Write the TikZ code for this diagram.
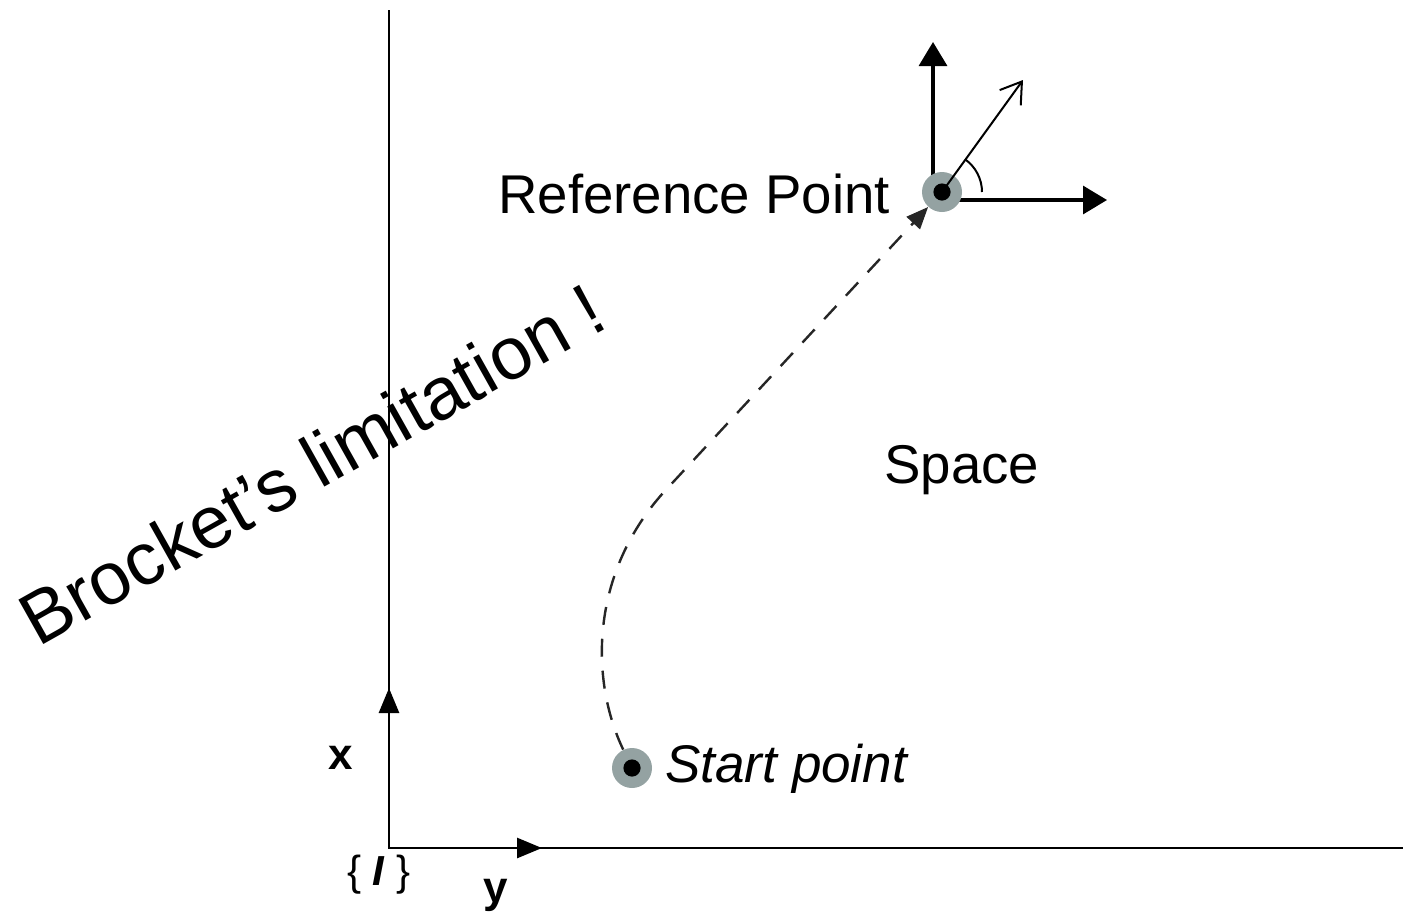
\documentclass[tikz,border=0pt]{standalone}
\usepackage{fontspec}
\setmainfont{Liberation Sans}
\usetikzlibrary{arrows.meta}
\definecolor{dotgray}{RGB}{148,162,162}
\begin{document}
\begin{tikzpicture}[x=0.5pt,y=-0.5pt,
  axis/.style={line width=1.35pt},
  axishead/.style={line width=1.35pt,-{Triangle[length=12.5pt,width=10pt]}},
  framearrow/.style={line width=1.6pt,-{Triangle[length=12pt,width=14pt]}},
  diagarrow/.style={line width=1pt,-{Straight Barb[length=10pt,width=13pt,line width=1pt]}},
  pathline/.style={line width=1.2pt,draw=black!85,dash pattern=on 9pt off 7pt,-{Triangle[length=11pt,width=9pt]}},
  pointdot/.style={circle,fill=dotgray,minimum size=20pt,inner sep=0pt,
    path picture={\fill[black] (path picture bounding box.center) circle[radius=4.3pt];}},
  lbl/.style={inner sep=0pt,font=\fontsize{27.3}{30}\selectfont},
  axlbl/.style={inner sep=0pt,font=\fontsize{21}{24}\selectfont}]
\useasboundingbox (0,0) rectangle (1403,912);
% main axes
\coordinate (O) at (389,848);
\coordinate (top) at (389,10);
\coordinate (xe) at (1403,848);
\coordinate (xh) at (389,688);
\coordinate (yh) at (542,848);
\draw[axis] (top) -- (O) -- (xe);
\draw[axishead] (O) -- (xh);
\draw[axishead] (O) -- (yh);
% local frame at reference point
\coordinate (fo) at (933,200);
\coordinate (fu) at (933,42);
\coordinate (fr) at (1107,200);
\coordinate (fd) at (1023,80);
\draw[framearrow] (fo) -- (fu);
\draw[framearrow] (fo) -- (fr);
% points
\node[pointdot] (rp) at (942,192) {};
\node[pointdot] (sp) at (632,768) {};
\draw[diagarrow] (rp.center) -- (fd);
\draw[line width=1pt] (rp.center) ++(40,0) arc[start angle=0,end angle=-55,radius=40];
% path
\coordinate (j) at (663,493);
\draw[pathline] (sp) .. controls (590,680) and (590,575) .. (j) -- (rp);
% labels
\node[lbl,anchor=base west] (reflbl) at (498,213) {Reference Point};
\node[lbl,anchor=base west] (spacelbl) at (884,483) {Space};
\node[lbl,anchor=base west,font=\fontsize{26.5}{30}\selectfont\itshape] (startlbl) at (665,782) {Start point};
\node[inner sep=0pt,anchor=base west,rotate=29.3,font=\fontsize{37}{40}\selectfont] (brock) at (38,648) {Brocket’s limitation !};
\node[axlbl,anchor=base,font=\fontsize{22}{24}\selectfont\bfseries] (xl) at (341,769) {x};
\node[axlbl,anchor=base,font=\fontsize{22}{24}\selectfont\bfseries] (yl) at (496,902) {y};
\node[axlbl] (il) at (379,875) {\{ \textbf{\textit{I}} \}};
\end{tikzpicture}
\end{document}
